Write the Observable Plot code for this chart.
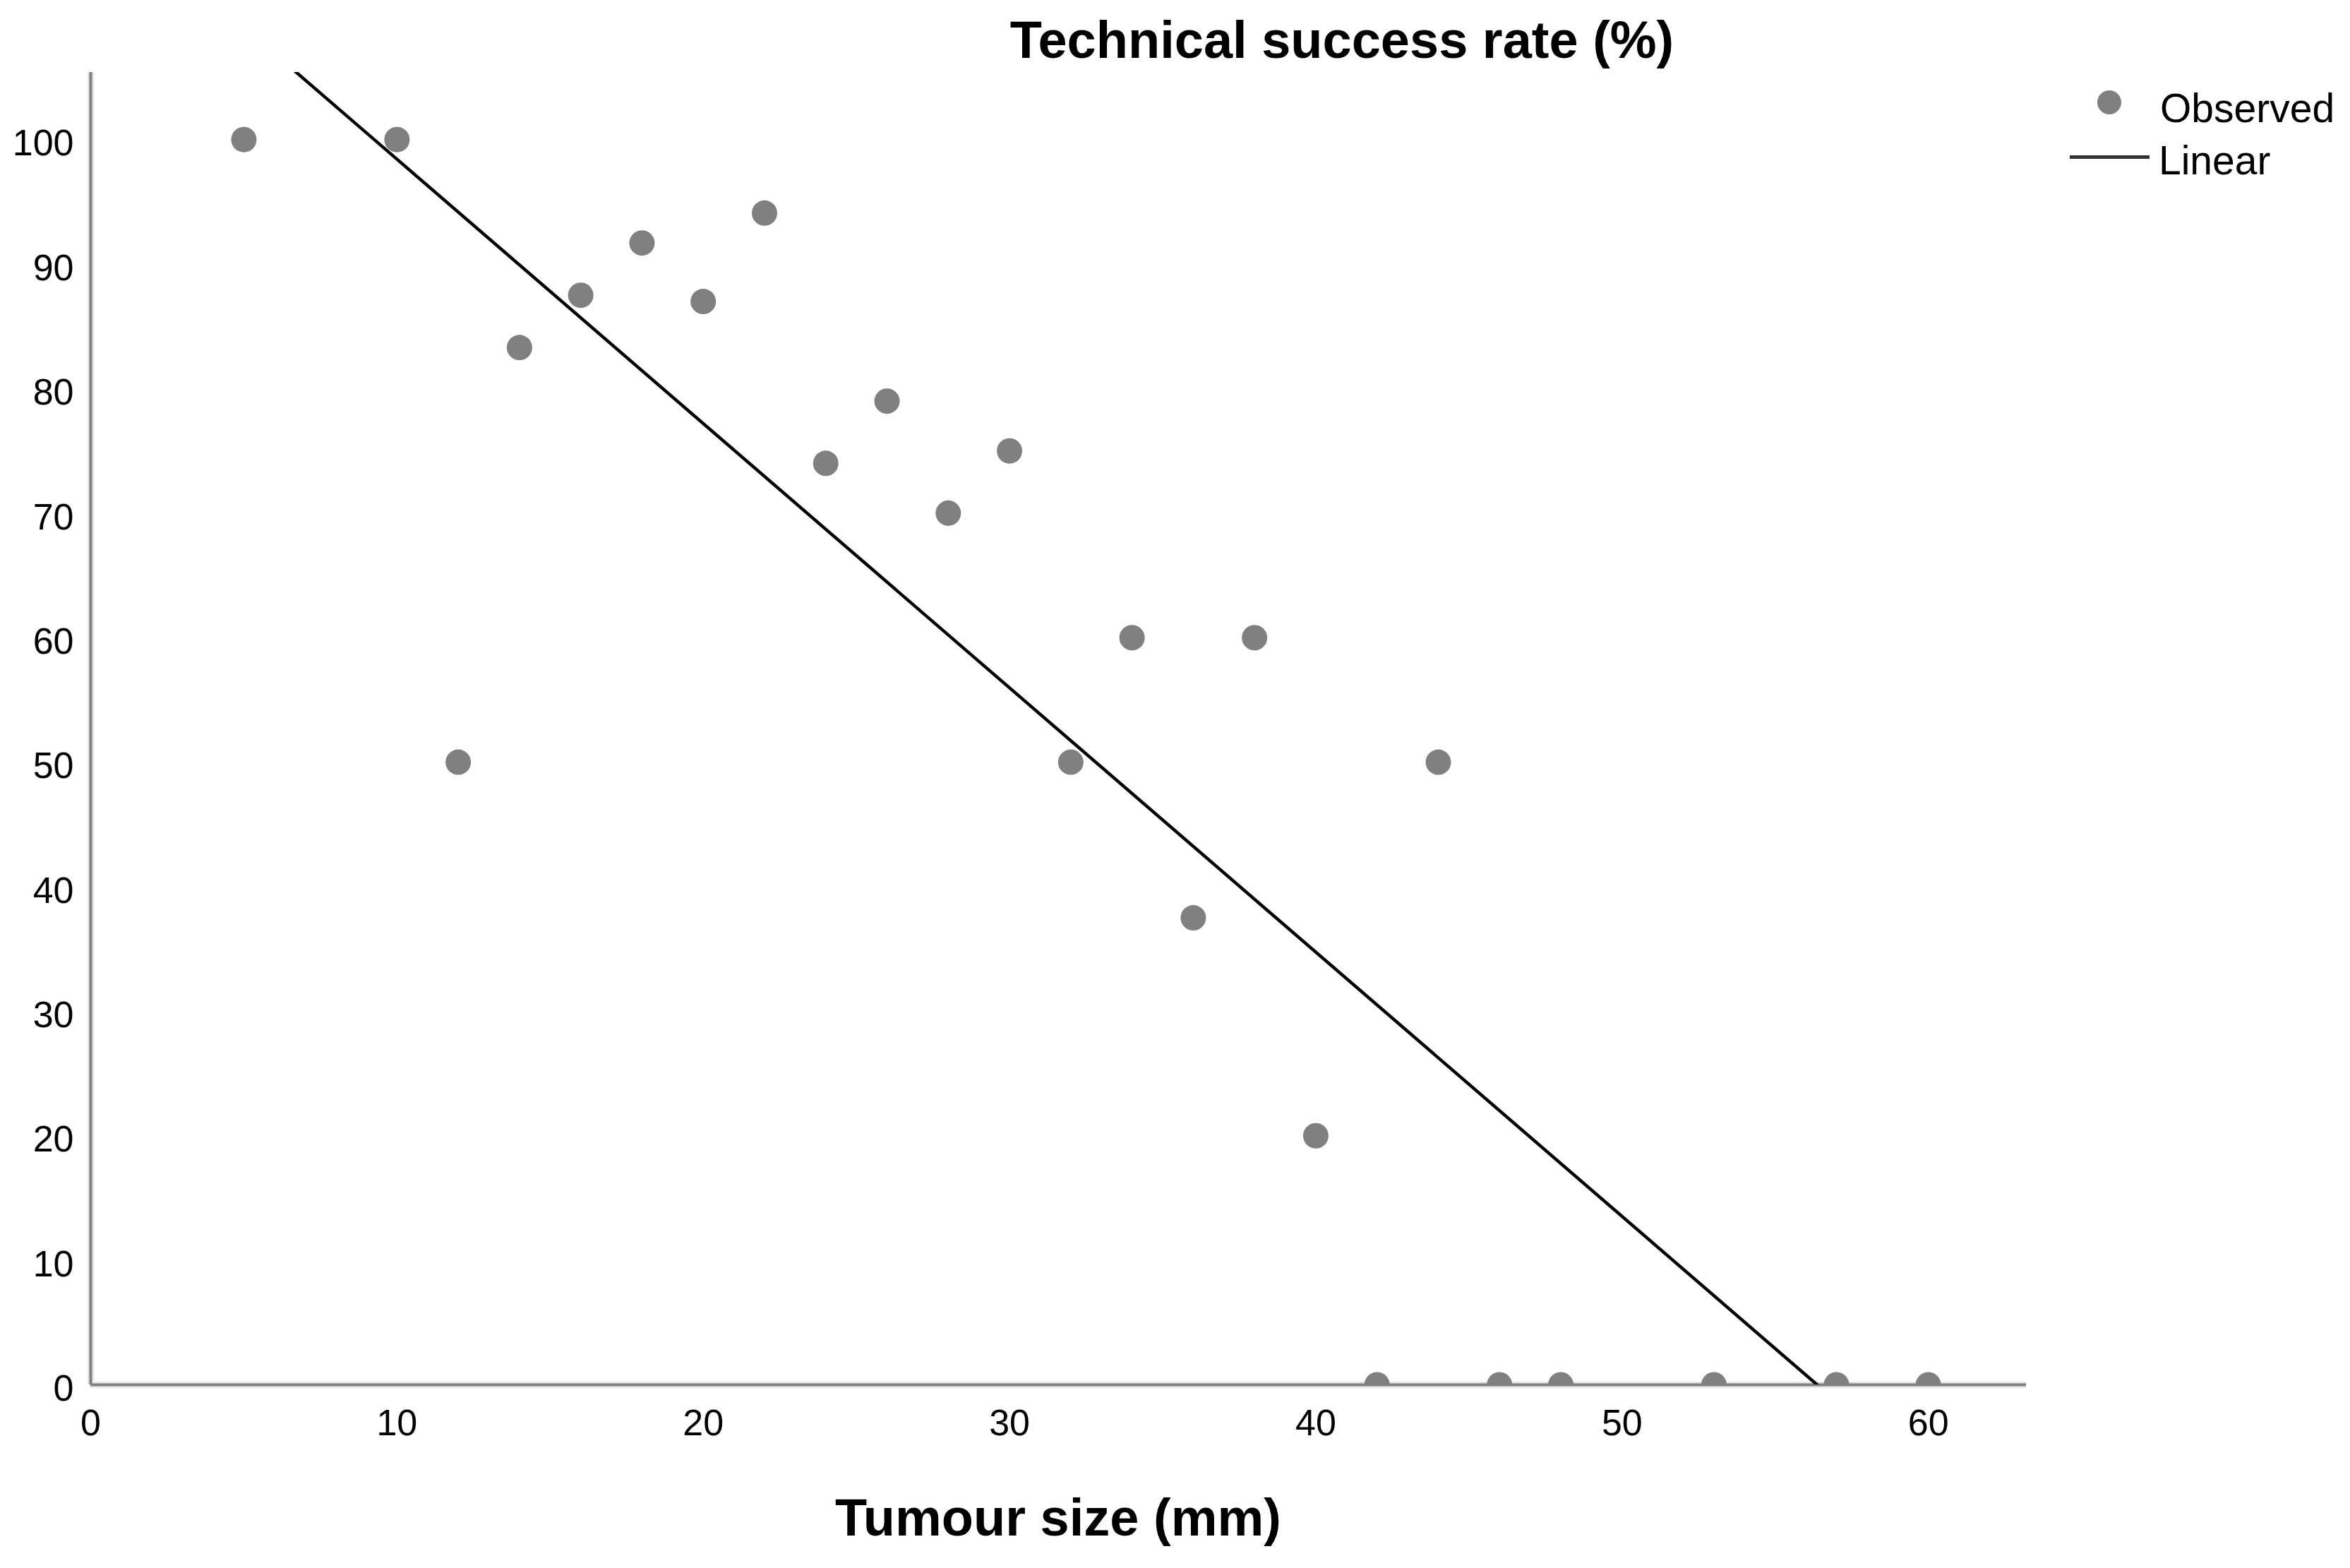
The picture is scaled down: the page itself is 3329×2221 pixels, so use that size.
<!DOCTYPE html>
<html>
<head>
<meta charset="utf-8">
<script src="https://cdn.jsdelivr.net/npm/d3@7"></script>
<script src="https://cdn.jsdelivr.net/npm/@observablehq/plot@0.6"></script>
<style>
  html, body { margin: 0; padding: 0; background: #fff; }
  #wrap { position: relative; width: 3329px; height: 2221px; font-family: "Liberation Sans", Arial, sans-serif; }
  .t { position: absolute; white-space: nowrap; line-height: 1; color: #000; }
</style>
</head>
<body>
<div id="wrap">
  <div class="t" style="left:1901px; top:20px; font-size:74px; font-weight:bold; transform:translateX(-50%);">Technical success rate (%)</div>
  <div class="t" style="left:1499px; top:2113px; font-size:74px; font-weight:bold; transform:translateX(-50%);">Tumour size (mm)</div>
  <div style="position:absolute; left:2971px; top:128px; width:34px; height:34px; border-radius:50%; background:#808080;"></div>
  <div style="position:absolute; left:2932px; top:220px; width:113px; height:5px; background:#333;"></div>
  <div class="t" style="left:3060px; top:125px; font-size:57px;">Observed</div>
  <div class="t" style="left:3058px; top:199px; font-size:57px;">Linear</div>
</div>
<script>
// Tumour size (mm) and technical success rate (%)
const sizes = [5, 10, 12, 14, 16, 18, 20, 22, 24, 26, 28, 30, 32, 34, 36, 38, 40, 42, 44, 46, 48, 53, 57, 60];
const rates = [100, 100, 50, 83.3, 87.5, 91.7, 87, 94.1, 74, 79, 70, 75, 50, 60, 37.5, 60, 20, 0, 50, 0, 0, 0, 0, 0];
const xTicks = [0, 10, 20, 30, 40, 50, 60];
const yTicks = [0, 10, 20, 30, 40, 50, 60, 70, 80, 90, 100];

const data = sizes.map((s, i) => ({size: s, rate: rates[i]}));

const chart = Plot.plot({
  width: 3329,
  height: 2221,
  marginLeft: 128,
  marginRight: 459,
  marginTop: 102,
  marginBottom: 260,
  style: {fontFamily: '"Liberation Sans", Arial, sans-serif', fontSize: "52px", color: "#000", background: "transparent"},
  x: {domain: [0, 63.2]},
  y: {domain: [0, 105.4]},
  marks: [
    Plot.axisX({ticks: xTicks, tickSize: 0, tickPadding: 35, label: null, fontSize: 52, tickFormat: d => String(d)}),
    Plot.axisY({ticks: yTicks, tickSize: 0, tickPadding: 24, label: null, fontSize: 52, dy: 6, tickFormat: d => String(d)}),
    Plot.ruleY([0], {stroke: "#e6e6e6", strokeWidth: 9}),
    Plot.ruleX([0], {stroke: "#e6e6e6", strokeWidth: 9}),
    Plot.ruleY([0], {stroke: "#808080", strokeWidth: 4}),
    Plot.ruleX([0], {stroke: "#808080", strokeWidth: 4}),
    Plot.linearRegressionY(data, {x: "size", y: "rate", stroke: "#000", strokeWidth: 4.5, ci: 0, clip: true}),
    Plot.dot(data, {x: "size", y: "rate", r: 18, fill: "#808080", stroke: "none", clip: true})
  ]
});
chart.style.position = "absolute";
chart.style.left = "0px";
chart.style.top = "0px";
document.getElementById("wrap").prepend(chart);
</script>
</body>
</html>
